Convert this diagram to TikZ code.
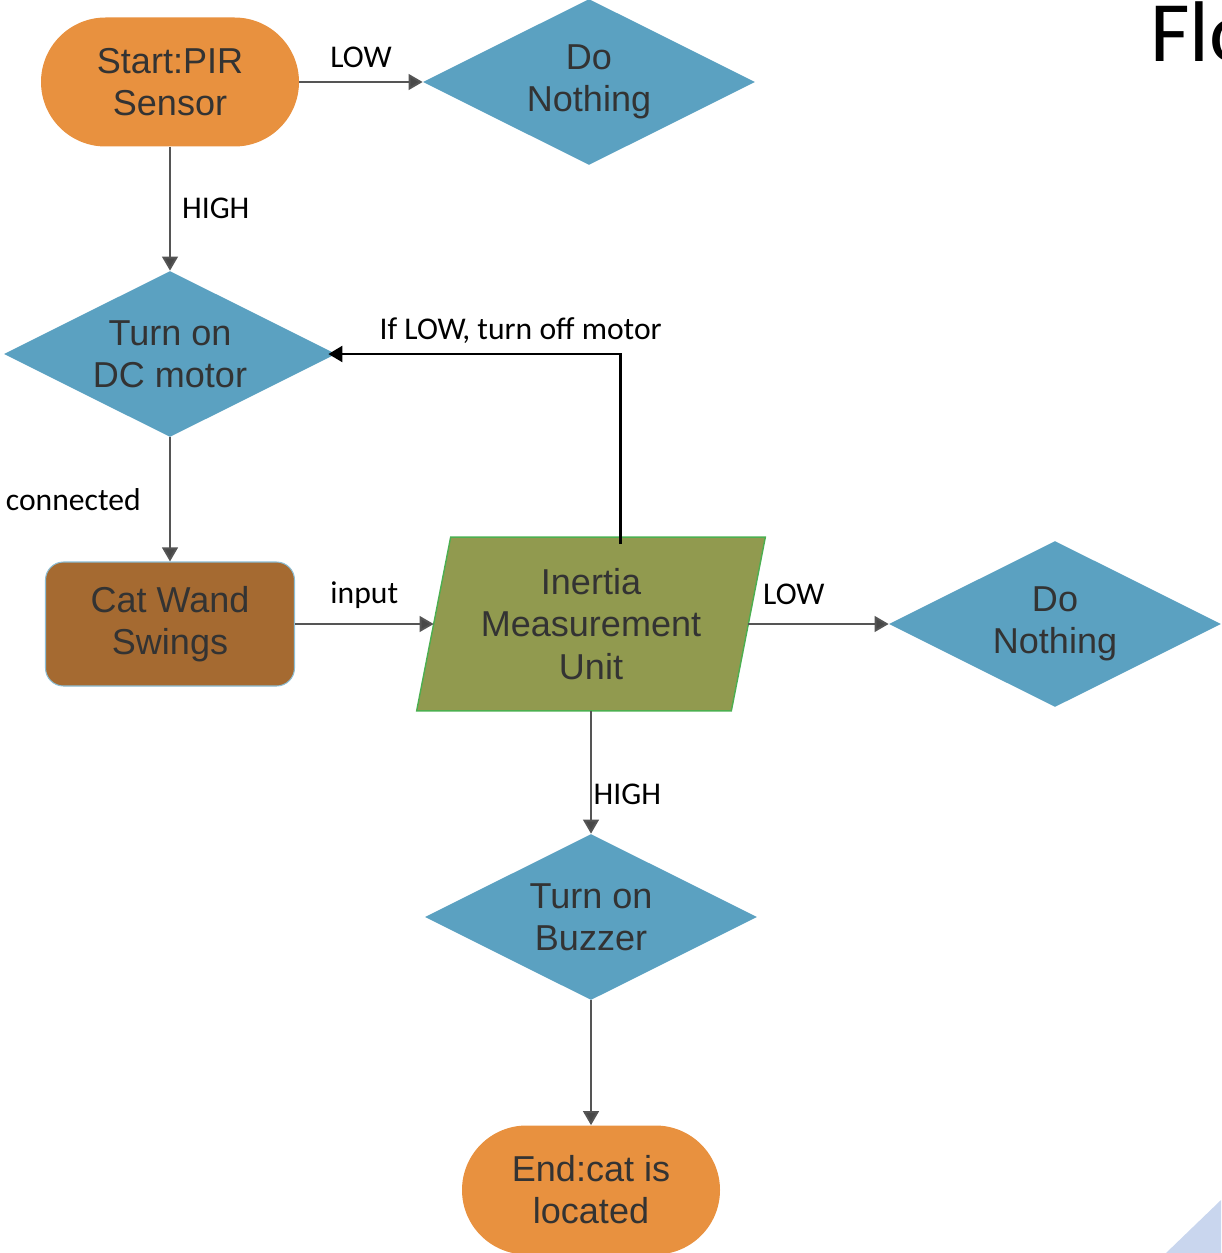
\documentclass[tikz,border=0pt]{standalone}
\usepackage{fontspec}
\setmainfont{Liberation Sans}
\newfontfamily\calfont{Carlito}
\usepackage{tikz}
\usetikzlibrary{arrows.meta,positioning,shapes.geometric,backgrounds}
\tikzset{>/.tip={Triangle[length=8pt,width=9pt]}}
\definecolor{termcol}{HTML}{E8913F}
\definecolor{deccol}{HTML}{5BA1C1}
\definecolor{wandcol}{HTML}{A56A31}
\definecolor{imucol}{HTML}{919A4F}
\definecolor{imuedge}{HTML}{4CAF50}
\definecolor{txtcol}{HTML}{333333}
\definecolor{linecol}{HTML}{555555}
\definecolor{cornercol}{HTML}{C9D6EE}
\tikzset{
  box/.style={text=txtcol,align=center,inner sep=0pt,
    font=\fontsize{20.5}{24}\selectfont},
  terminal/.style={box,fill=termcol,rectangle,rounded corners=1.29cm,
    minimum width=5.16cm,minimum height=2.58cm},
  decision/.style={box,fill=deccol,diamond,shape aspect=2,
    minimum width=6.64cm,minimum height=3.32cm},
  wandbox/.style={box,fill=wandcol,draw=deccol!70,line width=0.6pt,
    rounded corners=0.36cm,minimum width=4.98cm,minimum height=2.48cm},
  iobox/.style={box,rectangle,minimum width=6.28cm,minimum height=3.46cm},
  lbl/.style={font=\calfont\fontsize{18}{21}\selectfont,text=black},
  flow/.style={->,draw=linecol,line width=1.1pt,>={Triangle[length=8pt,width=9pt,fill=linecol!85!black]}},
  fback/.style={->,draw=black,line width=1.7pt}
}

\begin{document}
\begin{tikzpicture}[on grid]
        \useasboundingbox (0,0) rectangle (24.42,-25.06);
        \clip (0,0) rectangle (24.42,-25.06);
        % nodes
        \node(start)[terminal] at (3.40,-1.64){Start:PIR\\Sensor};
        \node(noth1)[decision,right=8.38cm of start]{Do\\Nothing};
        \node(dc)[decision,below=5.44cm of start]{Turn on\\DC motor};
        \node(wand)[wandbox,below=5.40cm of dc]{Cat Wand\\Swings};
        \node(imu)[iobox,right=8.42cm of wand]{Inertia\\Measurement\\Unit};
        \node(noth2)[decision,right=9.28cm of imu]{Do\\Nothing};
        \node(buzz)[decision,below=5.86cm of imu]{Turn on\\Buzzer};
        \node(stop)[terminal,below=5.46cm of buzz]{End:cat is\\located};
        \node(title)[anchor=base west,font=\calfont\fontsize{49}{58}\selectfont,
          inner sep=0pt] at (23.0,-1.24){Flo};
        % parallelogram behind the IMU text
        \begin{scope}[on background layer]
          \draw[fill=imucol,draw=imuedge,line width=0.8pt]
          ([xshift=-0.34cm]imu.south west) -- ([xshift=-0.34cm]imu.south east)
          -- ([xshift=0.34cm]imu.north east) -- ([xshift=0.34cm]imu.north west) -- cycle;
        \end{scope}
        \fill[cornercol] (23.32,-25.06) -- (24.42,-24.0) -- (24.42,-25.06) -- cycle;
        % connectors
        \draw[flow]
        (start) -- node[lbl,above=4pt]{LOW} (noth1);
        \draw[flow]
        (start) -- node[lbl,right=3pt]{HIGH} (dc);
        \draw[flow]
        (dc) -- node[lbl,left=0.45cm]{connected} (wand);
        \draw[flow]
        (wand) -- node[lbl,above=5pt]{input} (imu);
        \draw[flow]
        (imu) -- node[lbl,above right,pos=0,xshift=0.16cm,yshift=0.24cm]{LOW} (noth2);
        \draw[flow]
        (imu) -- node[lbl,right=0pt,inner sep=1pt,pos=0.68]{HIGH} (buzz);
        \draw[flow]
        (buzz) -- (stop);
        \draw[fback,shorten >=-0.16cm]
        ([xshift=0.58cm,yshift=-0.14cm]imu.north) |- node[lbl,above=2pt,pos=0.675]{If LOW, turn off motor} (dc.east);
      \end{tikzpicture}
\end{document}
